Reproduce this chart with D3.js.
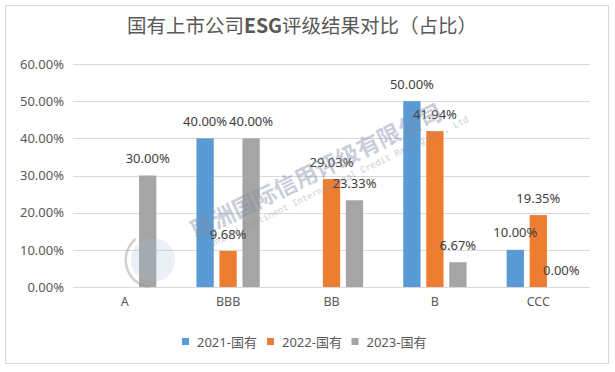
<!DOCTYPE html>
<html>
<head>
<meta charset="utf-8">
<script src="https://cdn.jsdelivr.net/npm/d3@7"></script>
<style>
  html, body { margin: 0; padding: 0; background: #fff; }
  svg { display: block; font-family: "Noto Sans", "Noto Sans CJK SC", sans-serif; }
</style>
</head>
<body>
<div id="chart"></div>
<script>
const titleParts = ["国有上市公司", "ESG", "评级结果对比（占比）"];
const categories = ["A", "BBB", "BB", "B", "CCC"];
const seriesNames = ["2021-国有", "2022-国有", "2023-国有"];
const values2021 = [null, 0.40, null, 0.50, 0.10];
const values2022 = [null, 0.0968, 0.2903, 0.4194, 0.1935];
const values2023 = [0.30, 0.40, 0.2333, 0.0667, 0.00];
const yTicks = [0, 0.1, 0.2, 0.3, 0.4, 0.5, 0.6];
const colors = ["#5b9bd5", "#ed7d31", "#a5a5a5"];
const watermarkCN = "联洲国际信用评级有限公司";
const watermarkEN = "United Continent International Credit Rating Co., Ltd";

const W = 615, H = 372;
const seriesValues = [values2021, values2022, values2023];

const svg = d3.select("#chart").append("svg").attr("width", W).attr("height", H);

// outer border
svg.append("rect").attr("x", 5.5).attr("y", 5.5).attr("width", 603).attr("height", 358)
  .attr("fill", "#fff").attr("stroke", "#d9d9d9").attr("stroke-width", 1);

// title
const t = svg.append("text").attr("x", 302).attr("y", 33).attr("text-anchor", "middle")
  .attr("font-family", "'Noto Sans CJK SC', sans-serif")
  .attr("font-size", 19.5).attr("fill", "#595959");
t.selectAll("tspan").data(titleParts).join("tspan")
  .attr("font-weight", (d, i) => i === 1 ? "bold" : "normal")
  .text(d => d);

const x0 = d3.scaleBand().domain(categories).range([73, 590]).padding(0);
const x1 = d3.scaleBand().domain(seriesNames).range([0, x0.bandwidth()])
  .paddingInner(0.248).paddingOuter(0.872);
const y = d3.scaleLinear().domain([0, 0.6]).range([287, 64]);

const fmt = d3.format(".2%");

// gridlines
svg.append("g").selectAll("line").data(yTicks).join("line")
  .attr("x1", 73).attr("x2", 590)
  .attr("y1", d => Math.round(y(d)) + 0.5).attr("y2", d => Math.round(y(d)) + 0.5)
  .attr("stroke", "#d9d9d9").attr("stroke-width", 1);

// y axis labels
const yAxis = d3.axisLeft(y).tickValues(yTicks).tickFormat(fmt).tickSize(0).tickPadding(0);
const gy = svg.append("g").attr("transform", "translate(64,0)").call(yAxis);
gy.select(".domain").remove();
gy.selectAll("text").attr("font-size", 13).attr("fill", "#595959")
  .attr("font-family", "'Noto Sans', sans-serif");

// x axis labels
const xAxis = d3.axisBottom(x0).tickSize(0).tickPadding(0);
const gx = svg.append("g").attr("transform", "translate(0,297)").call(xAxis);
gx.select(".domain").remove();
gx.selectAll("text").attr("font-size", 12.5).attr("fill", "#595959")
  .attr("font-family", "'Noto Sans', sans-serif");

// bars
const bars = [];
categories.forEach((c, ci) => {
  seriesNames.forEach((s, si) => {
    const v = seriesValues[si][ci];
    if (v !== null) bars.push({c, s, si, v});
  });
});

svg.append("g").selectAll("rect").data(bars).join("rect")
  .attr("x", d => x0(d.c) + x1(d.s))
  .attr("width", x1.bandwidth())
  .attr("y", d => y(d.v))
  .attr("height", d => y(0) - y(d.v))
  .attr("fill", d => colors[d.si]);

// data labels
svg.append("g").selectAll("text").data(bars).join("text")
  .attr("x", d => x0(d.c) + x1(d.s) + x1.bandwidth() / 2)
  .attr("y", d => y(d.v) - 12.5)
  .attr("text-anchor", "middle")
  .attr("font-size", 13).attr("fill", "#404040")
  .attr("font-family", "'Noto Sans', sans-serif")
  .text(d => fmt(d.v));

// watermark (on top, semi-transparent)
const wmLogo = svg.append("g").attr("transform", "translate(153,260)").attr("opacity", 0.45);
wmLogo.append("circle").attr("r", 22).attr("fill", "#a9c0db").attr("opacity", 0.5);
wmLogo.append("path")
  .attr("d", d3.arc()({innerRadius: 26, outerRadius: 28.5, startAngle: 3.3, endAngle: 5.6}))
  .attr("fill", "#9a9a9a");
const wm = svg.append("g").attr("transform", "translate(196,239) rotate(-26)").attr("opacity", 0.42);
wm.append("text").attr("x", 0).attr("y", 0)
  .attr("font-family", "'Noto Sans CJK SC', sans-serif").attr("font-weight", "bold")
  .attr("font-size", 23).attr("fill", "#7f8ea3")
  .text(watermarkCN);
wm.append("text").attr("x", 10).attr("y", 14)
  .attr("font-family", "'DejaVu Sans Mono', monospace")
  .attr("font-size", 9).attr("fill", "#7f8ea3")
  .text(watermarkEN);

// legend
const legendX = [182, 267, 351.5];
const lg = svg.append("g").selectAll("g").data(seriesNames).join("g")
  .attr("transform", (d, i) => `translate(${legendX[i]},338)`);
lg.append("rect").attr("width", 7).attr("height", 7).attr("fill", (d, i) => colors[i]);
lg.append("text").attr("x", 15).attr("y", 8.5)
  .attr("font-size", 13).attr("fill", "#595959")
  .attr("font-family", "'Noto Sans', 'Noto Sans CJK SC', sans-serif")
  .text(d => d);
</script>
</body>
</html>
